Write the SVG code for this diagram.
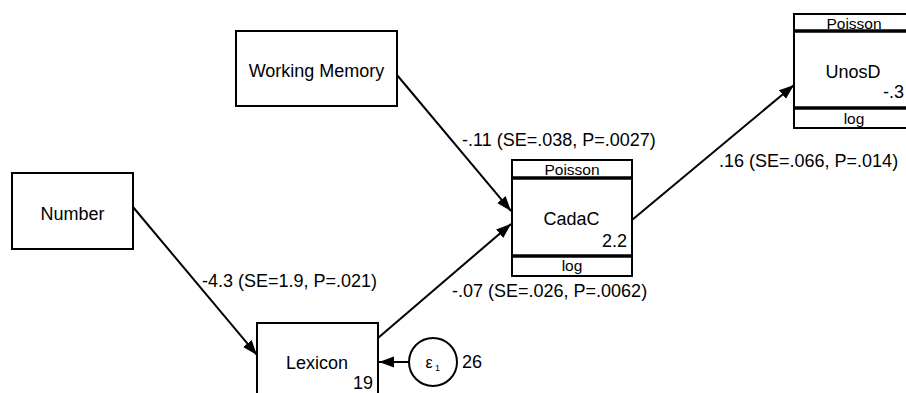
<svg xmlns="http://www.w3.org/2000/svg" width="906" height="393" viewBox="0 0 906 393">
<defs>
<style>
.box{fill:#fff;stroke:#000;stroke-width:2}
.div{stroke:#000;stroke-width:3.5}
.t{font-family:"Liberation Sans",Arial,sans-serif;font-size:18px;fill:#000}
.s{font-family:"Liberation Sans",Arial,sans-serif;font-size:15.5px;fill:#000}
.c{stroke:#000;stroke-width:2;fill:none;marker-end:url(#ah)}
</style>
<marker id="ah" markerUnits="userSpaceOnUse" markerWidth="16" markerHeight="12" refX="15" refY="5.5" orient="auto">
<path d="M0,0 L15,5.5 L0,11 Z" fill="#000"/>
</marker>
</defs>
<rect width="906" height="393" fill="#fff"/>
<g id="connectors">
<line class="c" x1="133" y1="207" x2="257" y2="355"/>
<line class="c" x1="397" y1="75" x2="511" y2="211"/>
<line class="c" x1="378" y1="338" x2="511" y2="224"/>
<line class="c" x1="632" y1="220" x2="794" y2="85"/>
<line class="c" x1="409" y1="362" x2="379" y2="362"/>
<text class="t" x="462" y="146">-.11 (SE=.038, P=.0027)</text>
<text class="t" x="202" y="287">-4.3 (SE=1.9, P=.021)</text>
<text class="t" x="452" y="297">-.07 (SE=.026, P=.0062)</text>
<text class="t" x="719" y="167">.16 (SE=.066, P=.014)</text>
</g>
<g id="number">
<rect class="box" x="12" y="173" width="121" height="76"/>
<text class="t" x="72.5" y="220" text-anchor="middle">Number</text>
</g>
<g id="working-memory">
<rect class="box" x="236" y="31" width="161" height="75"/>
<text class="t" x="316.5" y="77" text-anchor="middle">Working Memory</text>
</g>
<g id="cadac">
<rect class="box" x="512" y="160" width="120" height="116"/>
<line class="div" x1="512" y1="178" x2="632" y2="178"/>
<line class="div" x1="512" y1="256" x2="632" y2="256"/>
<text class="s" x="572" y="175" text-anchor="middle">Poisson</text>
<text class="t" x="571.5" y="225" text-anchor="middle">CadaC</text>
<text class="t" x="627" y="247" text-anchor="end">2.2</text>
<text class="s" x="572" y="271" text-anchor="middle">log</text>
</g>
<g id="unosd">
<rect class="box" x="794" y="14" width="120" height="114"/>
<line class="div" x1="794" y1="31" x2="914" y2="31"/>
<line class="div" x1="794" y1="108" x2="914" y2="108"/>
<text class="s" x="854" y="29" text-anchor="middle">Poisson</text>
<text class="t" x="853" y="78" text-anchor="middle">UnosD</text>
<text class="t" x="904" y="98" text-anchor="end">-.3</text>
<text class="s" x="854" y="124" text-anchor="middle">log</text>
</g>
<g id="lexicon">
<rect class="box" x="257" y="323" width="121" height="90"/>
<text class="t" x="317" y="369" text-anchor="middle">Lexicon</text>
<text class="t" x="373" y="389" text-anchor="end">19</text>
</g>
<g id="e1">
<circle cx="433" cy="362" r="24" fill="#fff" stroke="#000" stroke-width="2"/>
<text x="429" y="368" text-anchor="middle" style="font-family:'Liberation Sans',Arial,sans-serif;font-size:16px">ε</text>
<text x="435" y="371" style="font-family:'Liberation Sans',Arial,sans-serif;font-size:9px">1</text>
<text class="t" x="462" y="368">26</text>
</g>
</svg>
